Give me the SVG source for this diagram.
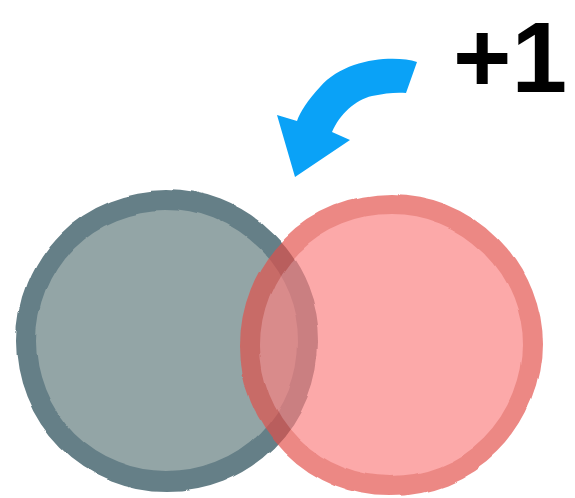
<svg xmlns="http://www.w3.org/2000/svg" width="575" height="498" viewBox="0 0 575 498">
<defs>
<filter id="wobble" x="-10%" y="-10%" width="120%" height="120%">
<feTurbulence type="fractalNoise" baseFrequency="0.012" numOctaves="1" seed="5" result="n"/>
<feDisplacementMap in="SourceGraphic" in2="n" scale="8" xChannelSelector="R" yChannelSelector="G"/>
</filter>
</defs>
<style>
.lbl{font-family:"Liberation Sans","Open Sans",sans-serif;font-weight:700;fill:#000}
.arrow{fill:#0aa2f7}
</style>
<rect width="575" height="498" fill="#fff"/>
<g id="left-circle" filter="url(#wobble)">
<circle cx="167" cy="341" r="141" fill="#93a5a6" stroke="#657f87" stroke-width="20"/>
</g>
<g id="right-circle" opacity="0.67" filter="url(#wobble)">
<circle cx="391" cy="345" r="141" fill="#fc7f7f" stroke="#e34f49" stroke-width="20"/>
</g>
<g id="connectors">
<path class="arrow" d="M417,62 C395,55 345,58 320,87 C308,100 300,112 297,121 L277,115 L295,177 L350,140 L332,132 C340,114 355,100 372,96 C385,93 398,92 406,93 Z"/>
</g>
<g id="label">
<text class="lbl" x="453" y="92" font-size="100">+1</text>
</g>
</svg>
